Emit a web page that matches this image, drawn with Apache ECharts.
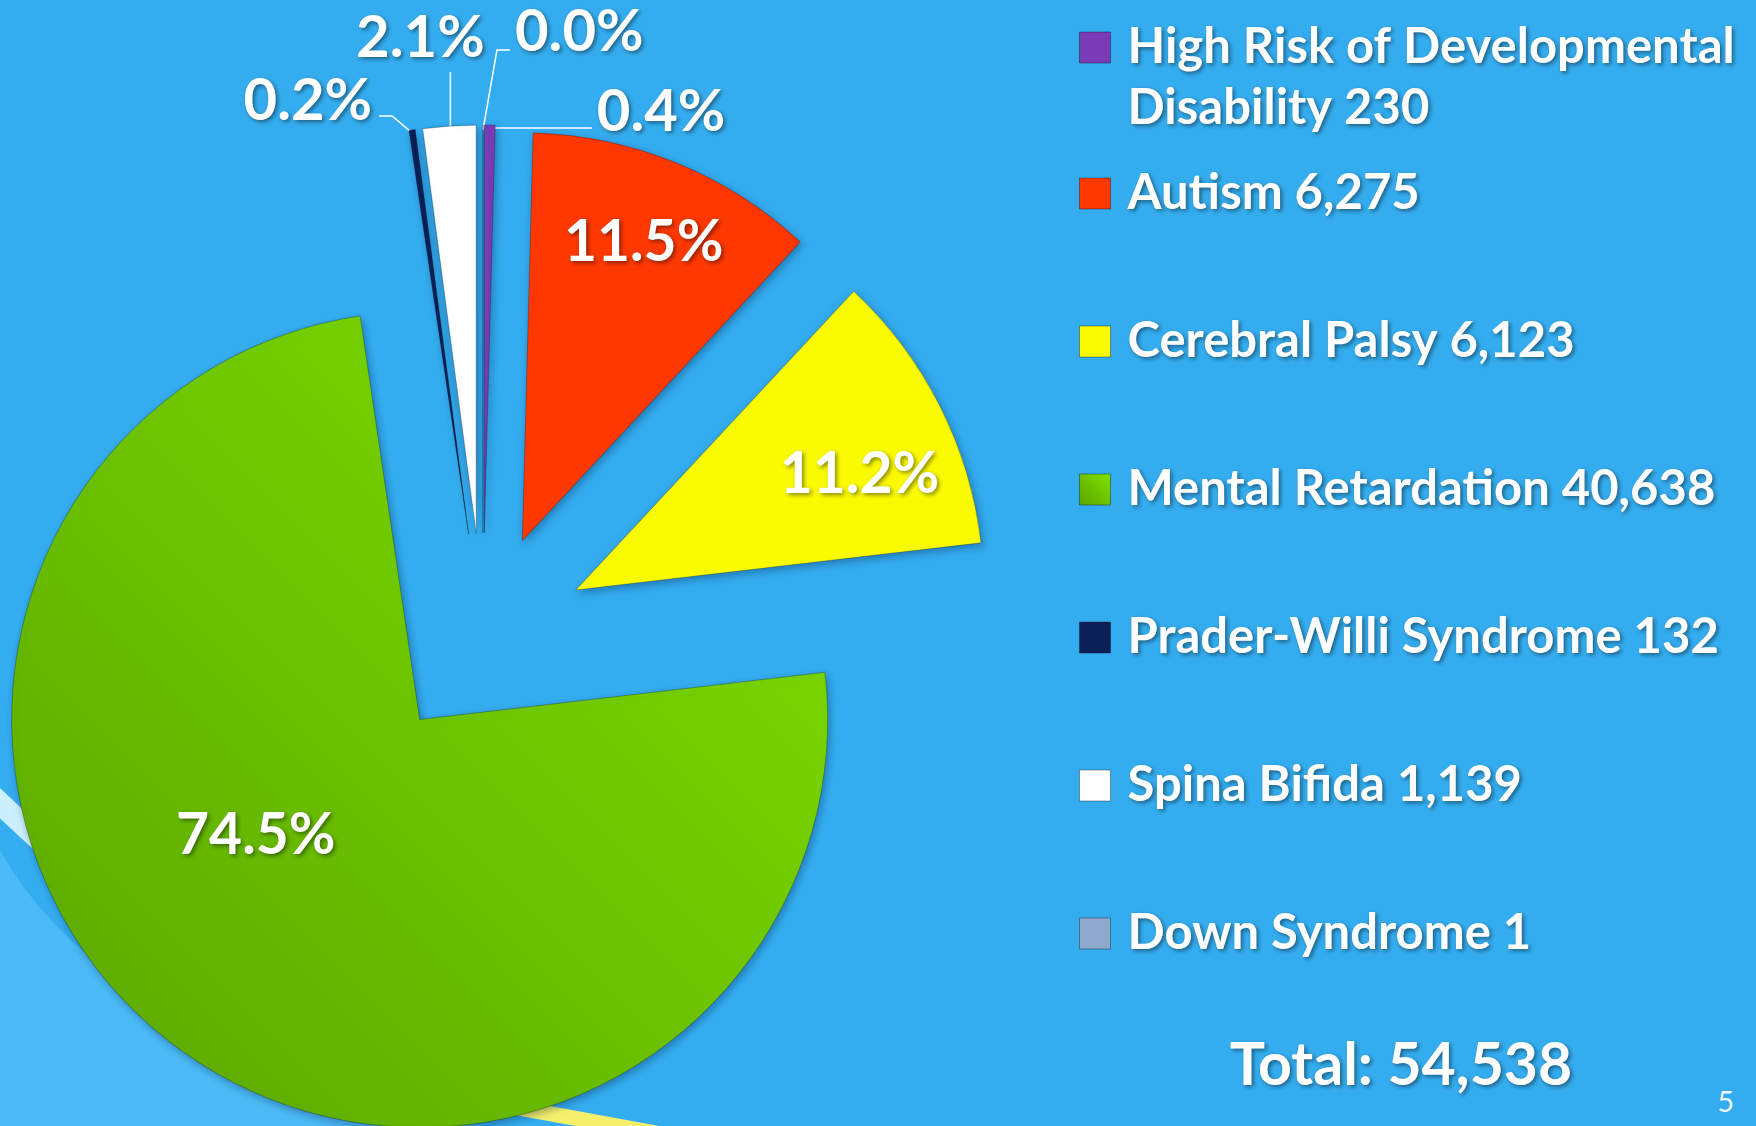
<!DOCTYPE html>
<html>
<head>
<meta charset="utf-8">
<title>Developmental disabilities</title>
<script src="https://cdn.jsdelivr.net/npm/echarts@6/dist/echarts.min.js"></script>
<style>
  html, body { margin: 0; padding: 0; background: #34adf0; }
  #chart { width: 1756px; height: 1126px; }
</style>
</head>
<body>
<div id="chart"></div>
<script>
var categories = ['High Risk of Developmental Disability', 'Autism', 'Cerebral Palsy', 'Mental Retardation', 'Prader-Willi Syndrome', 'Spina Bifida', 'Down Syndrome'];
var counts = [230, 6275, 6123, 40638, 132, 1139, 1];
var colors = ['#7a3bb6', '#ff3800', '#fbfb00', '#6ec800', '#0c2059', '#ffffff', '#8ea9cc'];

var total = counts.reduce(function (a, b) { return a + b }, 0);
var insideIdx = [1, 2, 3];

var fontFamily = 'Lato';
var shadow = {
  textShadowColor: 'rgba(0,0,0,0.45)',
  textShadowBlur: 4,
  textShadowOffsetX: 2,
  textShadowOffsetY: 2
};

// offsets for the big slices' labels (from their default inside spot)
var insideShift = { 1: [43, -106], 2: [99, -22], 3: [-38, -48] };
// leader lines for the thin slices, relative to where the line leaves the slice
var outsideLines = {
  0: { pts: [[5, 3], [102, 3], [102, 3]], text: [107, -13], align: 'left' },
  4: { pts: [[0, 3], [-20, -14], [-33, -14]], text: [-40, -29], align: 'right' },
  5: { pts: [[1, 4], [1, -54], [1, -54]], text: [-29, -88], align: 'center' },
  6: { pts: [[0, 5], [14, -75], [27, -75]], text: [32, -93], align: 'left' }
};

function fmt(n) { return n.toLocaleString('en-US') }
function legendText(name) { return name + ' ' + fmt(counts[categories.indexOf(name)]) }

// light swoosh behind the pie (slide decoration)
var swoosh = [];
for (var t = 0; t <= 1.0001; t += 0.05) {
  var a = (1 - t) * (1 - t), b = 2 * t * (1 - t), c = t * t;
  swoosh.push([b * 110 + c * 520, a * 850 + b * 1050 + c * 1135]);
}
swoosh.push([0, 1135]);

var chart = echarts.init(document.getElementById('chart'));

var legendBase = {
  orient: 'vertical',
  left: 1079,
  padding: 0,
  icon: 'rect',
  itemWidth: 31,
  itemHeight: 31,
  selectedMode: false,
  itemStyle: { borderColor: 'rgba(0,0,0,0.35)', borderWidth: 1, shadowBlur: 0, shadowOffsetX: 0, shadowOffsetY: 0 },
  textStyle: Object.assign({
    color: '#fff',
    fontFamily: fontFamily,
    fontWeight: 'bold',
    fontSize: 49,
    lineHeight: 61,
    padding: [0, 0, 0, 12]
  }, shadow)
};

chart.setOption({
  backgroundColor: '#34adf0',
  animation: false,
  legend: [
    Object.assign({}, legendBase, {
      data: categories.slice(0, 1),
      top: -44,
      // empty first line keeps the marker beside the first text line
      formatter: function (name) { return '\n' + legendText(name).replace(' Disability', '\nDisability') }
    }),
    Object.assign({}, legendBase, {
      data: categories.slice(1),
      top: 163,
      itemGap: 87,
      formatter: legendText
    })
  ],
  graphic: [
    { type: 'polygon', z: 0, shape: { points: swoosh }, style: { fill: 'rgba(110,205,255,0.4)' } },
    { type: 'bezierCurve', z: 0, shape: { x1: -20, y1: 784, cpx1: 90, cpy1: 892, x2: 250, y2: 1012 },
      style: { stroke: 'rgba(220,246,255,0.9)', lineWidth: 22, fill: null } },
    { type: 'line', z: 0, shape: { x1: 420, y1: 1090, x2: 760, y2: 1152 },
      style: { stroke: '#f4f06c', lineWidth: 15 } },
    { type: 'text', z: 10, x: 1401, y: 1066,
      style: Object.assign({
        text: 'Total: ' + fmt(total),
        align: 'center', verticalAlign: 'middle',
        fontFamily: fontFamily, fontWeight: 'bold', fontSize: 59, fill: '#fff'
      }, shadow) },
    { type: 'text', z: 10, x: 1726, y: 1103,
      style: { text: '5', align: 'center', verticalAlign: 'middle',
        fontFamily: fontFamily, fontSize: 29, fill: 'rgba(255,255,255,0.92)' } }
  ],
  series: [{
    type: 'pie',
    center: [483, 637],
    radius: 408,
    startAngle: 90,
    clockwise: true,
    selectedMode: 'multiple',
    selectedOffset: 104,
    avoidLabelOverlap: false,
    emphasis: { disabled: true },
    itemStyle: {
      borderColor: 'rgba(0,0,0,0.25)',
      borderWidth: 1,
      shadowBlur: 8,
      shadowColor: 'rgba(0,20,60,0.35)',
      shadowOffsetX: 2,
      shadowOffsetY: 3
    },
    label: Object.assign({
      color: '#fff',
      fontFamily: fontFamily,
      fontWeight: 'bold',
      fontSize: 58,
      textBorderWidth: 0,
      formatter: function (p) { return (p.value / total * 100).toFixed(1) + '%' }
    }, shadow),
    labelLine: { show: true, lineStyle: { color: '#fff', width: 1.5 } },
    labelLayout: function (p) {
      var i = p.dataIndex;
      if (insideShift[i]) return { dx: insideShift[i][0], dy: insideShift[i][1] };
      var o = outsideLines[i];
      var s = p.labelLinePoints[0];
      var r = p.labelRect;
      var ax = o.align === 'left' ? r.x : (o.align === 'right' ? r.x + r.width : r.x + r.width / 2);
      return {
        dx: s[0] + o.text[0] - ax,
        dy: s[1] + o.text[1] - (r.y + r.height / 2),
        labelLinePoints: o.pts.map(function (d) { return [s[0] + d[0], s[1] + d[1]] })
      };
    },
    data: categories.map(function (name, i) {
      var inside = insideIdx.indexOf(i) >= 0;
      var color = colors[i];
      if (i === 3) {
        color = new echarts.graphic.LinearGradient(0, 1, 1, 0, [
          { offset: 0, color: '#5aa500' },
          { offset: 1, color: '#80e200' }
        ]);
      }
      return {
        name: name,
        value: counts[i],
        selected: true,
        itemStyle: { color: color },
        label: inside ? { position: 'inside', fontSize: 57 } : { position: 'outside' },
        labelLine: { show: !inside }
      };
    })
  }]
});
</script>
</body>
</html>
